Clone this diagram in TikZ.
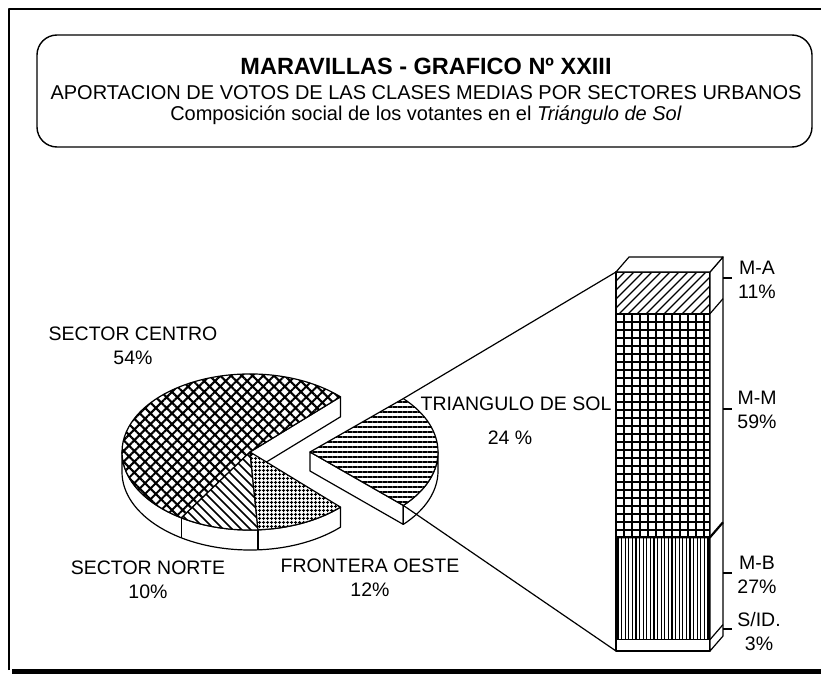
\documentclass[tikz,border=0pt]{standalone}
\usepackage{fontspec}
\setmainfont{Liberation Sans}
\usetikzlibrary{patterns.meta}
\newcommand\lblfont{\fontsize{19.5}{24}\selectfont}
\begin{document}
\begin{tikzpicture}[x=1pt,y=-1pt,line join=round,
  frame/.style={line width=2pt},
  edge/.style={line width=1.2pt},
  face/.style={edge, fill=white},
  topface/.style={edge, preaction={fill=white}},
  hline/.style={line width=1.5pt},
  lbl/.style={font=\lblfont, inner sep=0pt, align=center},
  ttl/.style={inner sep=0pt, anchor=base},
  ell/.style={x radius=128, y radius=78},
]
\useasboundingbox (0,0) rectangle (821,682);

% frame
\coordinate (f1) at (9,670); \coordinate (f2) at (9,9); \coordinate (f3) at (821,9);
\draw[frame] (f1) -- (f2) -- (f3);
\coordinate (g1) at (12,671); \coordinate (g2) at (821,671);
\draw[line width=5pt] (g1) -- (g2);

% title box
\node[draw, line width=1.4pt, rounded corners=20pt, minimum width=775pt, minimum height=112pt, inner sep=0pt] (tbox) at (424.5,91) {};
\node[ttl, font=\bfseries\fontsize{23.5}{26}\selectfont] (title) at (426,75) {MARAVILLAS - GRAFICO Nº XXIII};
\node[ttl, font=\fontsize{20}{22}\selectfont] (sub1) at (426,100) {APORTACION DE VOTOS DE LAS CLASES MEDIAS POR SECTORES URBANOS};
\node[ttl, font=\fontsize{20}{22}\selectfont] (sub2) at (426,121) {Composición social de los votantes en el \textit{Triángulo de Sol}};

% main pie
\coordinate (C) at (250,452);   \coordinate (Cd) at (250,472);
\coordinate (P45) at (340.5,396.8); \coordinate (P45d) at (340.5,416.8);
\coordinate (P180) at (122,452);
\coordinate (P237) at (181.4,517.9);
\coordinate (P273) at (258.0,529.8);
\coordinate (P315) at (340.5,507.2);

\draw[face] (C) -- (P45) -- (P45d) -- (Cd) -- cycle;
\draw[face] (P180) arc[ell, start angle=-180, end angle=-315] -- ++(0,20)
   arc[ell, start angle=-315, end angle=-180] -- cycle;
\draw[edge] (P237) -- ++(0,20);
\draw[edge] (P273) -- ++(0,20);

\draw[topface, pattern={Hatch[angle=45,distance=7.6pt,line width=2.1pt]}]
   (C) -- (P45) arc[ell, start angle=-45, end angle=-237.6] -- cycle;
% Norte: diagonal lines
\fill[white] (C) -- (P237) arc[ell, start angle=-237.6, end angle=-273.6] -- cycle;
\begin{scope}
  \clip (C) -- (P237) arc[ell, start angle=-237.6, end angle=-273.6] -- cycle;
  \foreach \k in {0,...,24} \draw[hline] (80+\k*9,440) -- ++(110,110);
\end{scope}
\draw[edge] (C) -- (P237) arc[ell, start angle=-237.6, end angle=-273.6] -- cycle;
\draw[topface, pattern={Hatch[angle=0,distance=4pt,line width=1.3pt]}]
   (C) -- (P273) arc[ell, start angle=-273.6, end angle=-315] -- cycle;

% exploded slice
\coordinate (E) at (310,452);  \coordinate (Ed) at (310,471);
\coordinate (Q1) at (403.3,398.6);
\coordinate (Q2) at (403.3,505.4); \coordinate (Q2d) at (403.3,524.4);
\coordinate (Q0) at (438,452); \coordinate (Q0d) at (438,471);

\draw[face] (E) -- (Q2) -- (Q2d) -- (Ed) -- cycle;
\draw[face] (Q2) arc[ell, start angle=43.2, end angle=0] -- (Q0d)
   arc[ell, start angle=0, end angle=43.2] -- cycle;
\draw[topface, pattern={Lines[angle=0,distance=5pt,line width=1.9pt]}]
   (E) -- (Q1) arc[ell, start angle=-43.2, end angle=43.2] -- cycle;

% bar
\coordinate (B1) at (616,272); \coordinate (B4) at (616,651);
\begin{scope}
  \clip (616,272) rectangle (710,313.7);
  \foreach \k in {0,...,17} \draw[line width=1.3pt] (574+\k*9,314) -- ++(42,-42);
\end{scope}
\draw[edge] (616,272) rectangle (710,313.7);
\draw[topface, pattern={Hatch[angle=0,distance=8pt,line width=1.3pt]}] (616,313.7) rectangle (710,537.3);
\begin{scope}
  \clip (616,537.3) rectangle (710,639.6);
  \foreach \k in {0,...,26} \draw[line width=1.2pt] (618+\k*3.6,537) -- ++(0,103);
\end{scope}
\draw[edge] (616,537.3) rectangle (710,639.6);
\draw[face] (616,639.6) rectangle (710,651);
\draw[face] (710,272) -- (723,257) -- (723,636) -- (710,651) -- cycle;
\draw[edge] (710,313.7) -- (723,298.7);
\draw[edge] (710,639.6) -- (723,624.6);
\draw[line width=2.2pt] (616,537.3) -- (710,537.3) -- (723,522.3);
\draw[face] (616,272) -- (629,257) -- (723,257) -- (710,272) -- cycle;

% ticks
\draw[edge] (723,278) -- (732,278);
\draw[edge] (723,409) -- (732,409);
\draw[edge] (723,573) -- (732,573);
\draw[edge] (723,629) -- (732,629);

% connectors
\draw[edge] (Q1) -- (B1);
\draw[edge] (Q2) -- (B4);

% labels
\node[lbl] (lcentro) at (133,346) {SECTOR CENTRO\\54\%};
\node[lbl] (lnorte) at (148,580) {SECTOR NORTE\\10\%};
\node[lbl] (loeste) at (370,578) {FRONTERA OESTE\\12\%};
\node[lbl] (ltri) at (516,404) {TRIANGULO DE SOL};
\node[lbl] (ltrip) at (510,438) {24 \%};
\node[lbl] (lma) at (757,280) {M-A\\11\%};
\node[lbl] (lmm) at (757,410) {M-M\\59\%};
\node[lbl] (lmb) at (757,575) {M-B\\27\%};
\node[lbl] (lsid) at (759,632) {S/ID.\\3\%};
\end{tikzpicture}
\end{document}
